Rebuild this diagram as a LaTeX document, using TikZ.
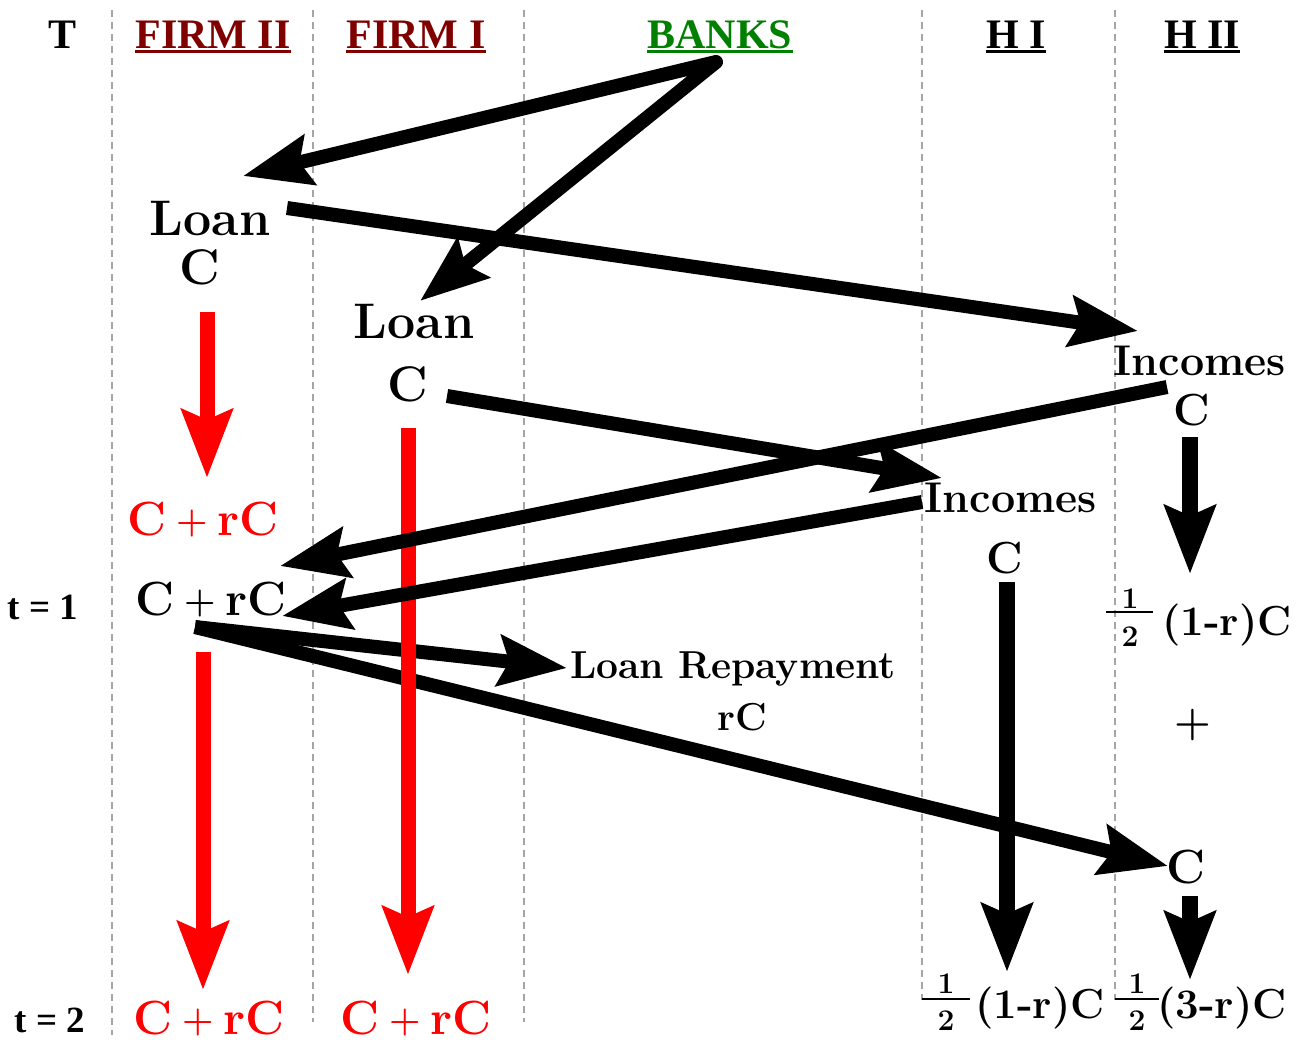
\documentclass[tikz,border=0pt]{standalone}
\usepackage{fontspec}
\newfontfamily\hdr{Liberation Serif}
\usetikzlibrary{arrows.meta}
\definecolor{firmred}{RGB}{128,0,0}
\definecolor{bankgreen}{RGB}{0,128,0}
\definecolor{dashgray}{RGB}{165,165,165}
\newcommand{\crcText}{C\hspace{10pt}\raisebox{3pt}{\fontsize{36}{36}\selectfont +}\hspace{10pt}rC}
\begin{document}
\begin{tikzpicture}[x=1pt,y=-1pt,
  hd/.style={font=\hdr\bfseries\fontsize{42}{42}\selectfont, inner sep=0pt, anchor=base},
  tlab/.style={font=\hdr\bfseries\fontsize{37}{37}\selectfont, inner sep=0pt, anchor=base},
  body/.style={font=\bfseries\fontsize{#1}{#1}\selectfont, inner sep=0pt, anchor=base},
  digit/.style={font=\bfseries\fontsize{30}{30}\selectfont, inner sep=0pt, anchor=center},
  colline/.style={dashgray, line width=1.2pt, dash pattern=on 7pt off 5pt},
  head/.tip={Stealth[length=68pt,width=50pt,inset=10pt]},
  flow/.style={line width=14pt, -head},
  vflow/.style={line width=16pt, -head},
  rflow/.style={red, line width=15pt, -head},
  bar/.style={line width=1.6pt}
]
\fill[white] (0,0) rectangle (1306,1039);
\useasboundingbox (0,0) rectangle (1306,1039);

% column separators
\draw[colline] (112,10) -- (112,1035);
\draw[colline] (313,10) -- (313,1022);
\draw[colline] (524,10) -- (524,1022);
\draw[colline] (922,10) -- (922,1000);
\draw[colline] (1115,10) -- (1115,1000);

% headers
\node[hd] (T) at (63,48) {T};
\node[hd, firmred] (f2) at (213,48) {FIRM II};
\node[hd, firmred] (f1) at (416,48) {FIRM I};
\node[hd, bankgreen] (bk) at (720,48) {BANKS};
\node[hd] (h1) at (1016,48) {H I};
\node[hd] (h2) at (1202,48) {H II};
\draw[firmred, line width=3pt] ([yshift=-3.5pt]f2.base west) -- ([yshift=-3.5pt]f2.base east);
\draw[firmred, line width=3pt] ([yshift=-3.5pt]f1.base west) -- ([yshift=-3.5pt]f1.base east);
\draw[bankgreen, line width=3pt] ([yshift=-3.5pt]bk.base west) -- ([yshift=-3.5pt]bk.base east);
\draw[line width=3pt] ([yshift=-3.5pt]h1.base west) -- ([yshift=-3.5pt]h1.base east);
\draw[line width=3pt] ([yshift=-3.5pt]h2.base west) -- ([yshift=-3.5pt]h2.base east);

% time labels
\node[tlab] (t1) at (43,619) {t = 1};
\node[tlab] (t2) at (50,1032) {t = 2};

% text nodes
\node[body=50] (loanII) at (210,235) {Loan};
\node[body=50] (loanIIc) at (200,284) {C};
\node[body=50] (loanI) at (414,338) {Loan};
\node[body=50] (loanIc) at (408,401) {C};
\node[body=43] (incII) at (1200,375) {Incomes};
\node[body=45] (incIIc) at (1192,425) {C};
\node[body=43] (incI) at (1011,512) {Incomes};
\node[body=45] (incIc) at (1005,573) {C};
\node[body=48, red] (crcII) at (203,535) {\crcText};
\node[body=48] (crc) at (211,615) {\crcText};
\node[body=39] (rep) at (733,678) {Loan Repayment};
\node[body=39] (repc) at (742,730) {rC};
\node[body=42] (hIIa) at (1227,635) {(1-r)C};
\node[body=42, anchor=center] (plus) at (1193,725) {+};
\node[body=48] (cII) at (1186,883) {C};
\node[body=42] (hIb) at (1040,1018) {(1-r)C};
\node[body=42] (hIIb) at (1222,1018) {(3-r)C};
\node[body=48, red] (endII) at (209,1034) {\crcText};
\node[body=48, red] (endI) at (416,1034) {\crcText};

% fractions
\node[digit] (nA) at (1130,599) {1};
\node[digit] (dA) at (1130,637) {2};
\draw[bar] (1106,612) -- (1153,612);
\node[digit] (nB) at (946,984) {1};
\node[digit] (dB) at (946,1021) {2};
\draw[bar] (922,999) -- (970,999);
\node[digit] (nC) at (1137,984) {1};
\node[digit] (dC) at (1137,1021) {2};
\draw[bar] (1115,999) -- (1159,999);

% connector end points
\coordinate (bkout) at (716,62);
\coordinate (loanIIin) at (243,176);
\coordinate (loanIin) at (420,301);
\coordinate (loanIIout) at (287,208);
\coordinate (incIIin) at (1138,331);
\coordinate (loanIout) at (447,396);
\coordinate (incIin) at (942,478);
\coordinate (incIIout) at (1167,387);
\coordinate (crcA) at (280,566);
\coordinate (incIout) at (922,502);
\coordinate (crcB) at (282,616);
\coordinate (crcout) at (195,627);
\coordinate (repin) at (567,668);
\coordinate (cIIin) at (1168,866);
\coordinate (rIIa) at (207,312);
\coordinate (rIIb) at (207,478);
\coordinate (rIa) at (408,428);
\coordinate (rIb) at (408,975);
\coordinate (rIIc) at (203,652);
\coordinate (rIId) at (203,990);
\coordinate (vIIa) at (1190,437);
\coordinate (vIIb) at (1190,574);
\coordinate (vIa) at (1007,582);
\coordinate (vIb) at (1007,972);
\coordinate (vIIc) at (1190,896);
\coordinate (vIId) at (1190,980);

% connectors
\draw[line width=14pt, line join=round, head-head] (loanIIin) -- (bkout) -- (loanIin);
\draw[flow] (loanIIout) -- (incIIin);
\draw[flow] (loanIout) -- (incIin);
\draw[rflow] (rIIa) -- (rIIb);
\draw[rflow] (rIIc) -- (rIId);
\draw[flow] (crcout) -- (repin);
\draw[flow] (crcout) -- (cIIin);
\draw[rflow] (rIa) -- (rIb);
\draw[flow] (incIIout) -- (crcA);
\draw[flow] (incIout) -- (crcB);
\draw[vflow] (vIIa) -- (vIIb);
\draw[vflow] (vIa) -- (vIb);
\draw[vflow] (vIIc) -- (vIId);
\end{tikzpicture}
\end{document}
